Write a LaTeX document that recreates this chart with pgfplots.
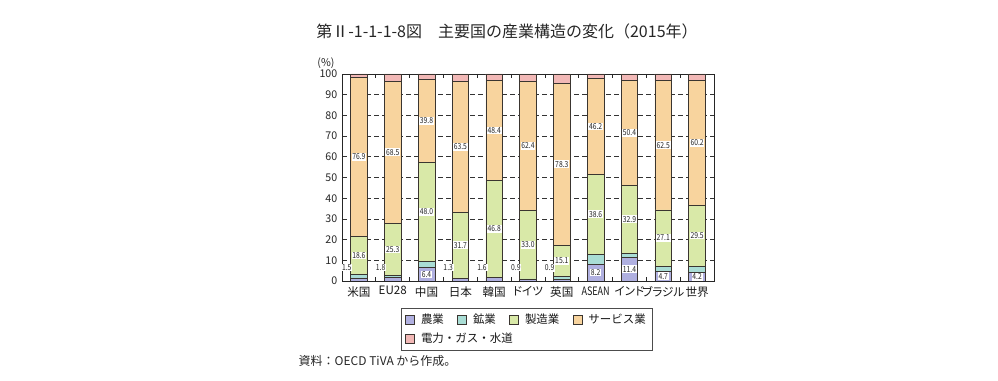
\documentclass[border=0pt]{standalone}
\usepackage{fontspec}
\setmainfont{Noto Sans CJK JP}
\newfontfamily\jpp[RawFeature=+palt]{Noto Sans CJK JP}
\usepackage{pgfplots}
\usepackage{pgfplotstable}
\pgfplotsset{compat=1.18}
\definecolor{cAgri}{HTML}{B0B0E0}
\definecolor{cMine}{HTML}{A9DDD5}
\definecolor{cManuf}{HTML}{D9E9A8}
\definecolor{cServ}{HTML}{F8D49E}
\definecolor{cUtil}{HTML}{F2B8B6}
\definecolor{barline}{HTML}{3A3530}
\pgfplotstableread{
x agri mine manuf serv util adx ady
0 1.5 1.5 18.6 76.9 1.5 -0.36 5.0
1 1.8 0.8 25.3 68.5 3.6 -0.36 4.7
2 6.4 3.0 48.0 39.8 2.8 0 -3.2
3 1.3 0.1 31.7 63.5 3.4 -0.36 5.2
4 1.6 0.1 46.8 48.4 3.1 -0.36 4.9
5 0.9 0.1 33.0 62.4 3.6 -0.36 5.6
6 0.9 1.2 15.1 78.3 4.5 -0.36 5.4
7 8.2 4.7 38.6 46.2 2.3 0 -4.1
8 11.4 2.0 32.9 50.4 3.3 0 -5.7
9 4.7 2.5 27.1 62.5 3.2 0 -2.35
10 4.2 3.0 29.5 60.2 3.1 0 -2.1
}\datatable
\pgfplotsset{
  sqlegend/.style={legend image code/.code={\draw[##1,draw=barline,line width=0.5pt] (0pt,-3.4pt) rectangle (6.8pt,3.4pt);}},
  geom/.style={at={(256.5pt,75pt)}, anchor=south west, width=279pt, height=155.25pt, scale only axis,
    xmin=-0.5, xmax=10.5, ymin=0, ymax=100},
}
\tikzset{lbl/.style={font=\fontsize{6.2}{6.2}\selectfont, fill=white, inner sep=0.6pt, text=black!85, anchor=center}}
\newcommand{\lab}[1]{\scalebox{0.82}[1]{\pgfmathprintnumber[fixed,fixed zerofill,precision=1,assume math mode=true]{#1}}}
\begin{document}
\begin{tikzpicture}[x=0.75pt,y=0.75pt]
\path[use as bounding box] (0,0) rectangle (998,381);
\node[font=\fontsize{12}{14}\selectfont, text=black!85] at (507,350) {第Ⅱ-1-1-1-8図　主要国の産業構造の変化（2015年）};
\node[font=\fontsize{8}{10}\selectfont, text=black!85] at (326,318) {(\%)};
\node[anchor=west, font=\fontsize{9}{10}\selectfont, text=black!85] at (294,20) {資料：OECD TiVA から作成。};
\begin{axis}[
  geom,
  ybar stacked, bar width=12.5pt,
  xtick={0.5,1.5,...,9.5}, xticklabels={},
  x tick style={draw=black!85, line width=0.6pt},
  tick align=inside, major tick length=3pt,
  extra x ticks={0,1,2,3,4,5,6,7,8,9,10},
  extra x tick labels={米国,EU28,中国,日本,韓国,ドイツ,英国,\scalebox{0.78}[1]{ASEAN},インド,ブラジル,世界},
  extra x tick style={major tick length=0pt, grid=none},
  x tick label style={font=\jpp\fontsize{8.7}{10}\selectfont, text=black!90, yshift=-0.5pt},
  ytick={0,10,...,100},
  y tick style={draw=none},
  y tick label style={font=\fontsize{8}{9}\selectfont, text=black!85},
  /pgf/number format/assume math mode=true,
  ymajorgrids,
  grid style={dashed, dash pattern=on 4pt off 2pt, black!80, line width=0.5pt},
  axis line style={black!85, line width=0.6pt},
  legend style={at={(0.497,-0.13)}, anchor=north, draw=black!70, line width=0.5pt,
    font=\fontsize{8.6}{10}\selectfont, text=black!90, row sep=2pt, inner xsep=3pt, inner ysep=2pt,
    /tikz/every odd column/.append style={column sep=2.5pt},
    /tikz/every even column/.append style={column sep=8pt}},
  legend columns=4,
  legend cell align=left,
]
\addplot[fill=cAgri, draw=barline, line width=0.5pt, sqlegend] table[x=x,y=agri]{\datatable};
\addlegendentry{農業}
\addplot[fill=cMine, draw=barline, line width=0.5pt, sqlegend] table[x=x,y=mine]{\datatable};
\addlegendentry{鉱業}
\addplot[fill=cManuf, draw=barline, line width=0.5pt, sqlegend] table[x=x,y=manuf]{\datatable};
\addlegendentry{製造業}
\addplot[fill=cServ, draw=barline, line width=0.5pt, sqlegend] table[x=x,y=serv]{\datatable};
\addlegendentry{サービス業}
\addplot[fill=cUtil, draw=barline, line width=0.5pt, sqlegend] table[x=x,y=util]{\datatable};
\addlegendentry{\makebox[0pt][l]{電力・ガス・水道}}
\end{axis}
\begin{axis}[geom, hide axis, clip=false]
\addplot[draw=none, point meta=explicit, nodes near coords={\lab{\pgfplotspointmeta}},
  every node near coord/.style={lbl}]
  table[x expr=\thisrow{x}+\thisrow{adx}, y expr=\thisrow{agri}+\thisrow{ady}, meta=agri]{\datatable};
\addplot[draw=none, point meta=explicit, nodes near coords={\lab{\pgfplotspointmeta}},
  every node near coord/.style={lbl}]
  table[x=x, y expr=\thisrow{agri}+\thisrow{mine}+0.5*\thisrow{manuf}, meta=manuf]{\datatable};
\addplot[draw=none, point meta=explicit, nodes near coords={\lab{\pgfplotspointmeta}},
  every node near coord/.style={lbl}]
  table[x=x, y expr=\thisrow{agri}+\thisrow{mine}+\thisrow{manuf}+0.5*\thisrow{serv}, meta=serv]{\datatable};
\end{axis}
\end{tikzpicture}
\end{document}
